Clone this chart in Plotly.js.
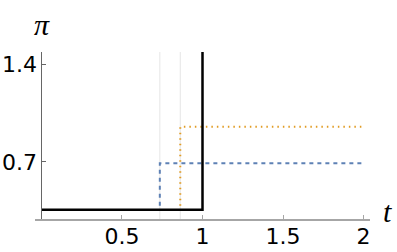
<!DOCTYPE html>
<html><head><meta charset="utf-8">
<script src="https://cdn.plot.ly/plotly-3.0.1.min.js"></script>
<style>html,body{margin:0;padding:0;background:#fff}#chart{width:397px;height:252px}</style>
</head><body><div id="chart"></div>
<script>
// Data
var blackT = [0, 1, 1];
var blackPi = [0.357, 0.357, 1.6];
var blueT = [0.735, 0.735, 2];
var bluePi = [0.385, 0.69, 0.69];
var orangeT = [0.862, 0.862, 2];
var orangePi = [0.385, 0.952, 0.952];
var gridT = [0.735, 0.862];
var xTickVals = [0.5, 1, 1.5, 2];
var xTickText = ['0.5', '1', '1.5', '2'];
var yTickVals = [0.7, 1.4];
var yTickText = ['0.7', '1.4'];

var traces = [
  {x: blueT, y: bluePi, mode: 'lines', line: {color: '#5E81B5', width: 2, dash: '4px,4px'}, hoverinfo: 'skip'},
  {x: orangeT, y: orangePi, mode: 'lines', line: {color: '#E19C24', width: 2, dash: '1.5px,4px'}, hoverinfo: 'skip'},
  {x: blackT, y: blackPi, mode: 'lines', line: {color: '#000', width: 2.5}, hoverinfo: 'skip'}
];

var shapes = gridT.map(function(t){
  return {type: 'line', xref: 'x', yref: 'paper', x0: t, x1: t, y0: 0, y1: 1,
          line: {color: '#e6e6e6', width: 1}, layer: 'below'};
});

var xr = [-0.04, 2.04];
var layout = {
  width: 397, height: 252,
  margin: {l: 35, r: 27, t: 52, b: 33},
  paper_bgcolor: '#fff', plot_bgcolor: '#fff',
  showlegend: false,
  font: {family: 'DejaVu Sans', size: 22, color: '#000'},
  xaxis: {
    range: xr, showgrid: false, zeroline: false,
    showline: true, linecolor: '#a6a6a6', linewidth: 2,
    ticks: 'inside', ticklen: 4, tickcolor: '#a6a6a6', tickwidth: 1,
    tickvals: xTickVals, ticktext: xTickText, ticklabelstandoff: -3,
    tickfont: {family: 'DejaVu Sans', size: 22, color: '#000'}
  },
  yaxis: {
    range: [0.29, 1.49], showgrid: false, zeroline: false,
    anchor: 'free', position: (0 - xr[0]) / (xr[1] - xr[0]),
    showline: true, linecolor: '#666', linewidth: 1,
    ticks: 'inside', ticklen: 4, tickcolor: '#666', tickwidth: 1,
    tickvals: yTickVals, ticktext: yTickText,
    tickfont: {family: 'DejaVu Sans', size: 22, color: '#000'}
  },
  shapes: shapes,
  annotations: [
    {text: '<i>π</i>', xref: 'paper', yref: 'paper', x: 0.02, y: 1, xanchor: 'center', yanchor: 'middle', yshift: 28,
     showarrow: false, font: {family: 'Liberation Serif', size: 30, color: '#000'}},
    {text: '<i>t</i>', xref: 'paper', yref: 'paper', x: 1, y: 0, xanchor: 'left', yanchor: 'middle', xshift: 11, yshift: 8,
     showarrow: false, font: {family: 'Liberation Serif', size: 30, color: '#000'}}
  ]
};

Plotly.newPlot('chart', traces, layout, {staticPlot: true, displayModeBar: false});
</script></body></html>
